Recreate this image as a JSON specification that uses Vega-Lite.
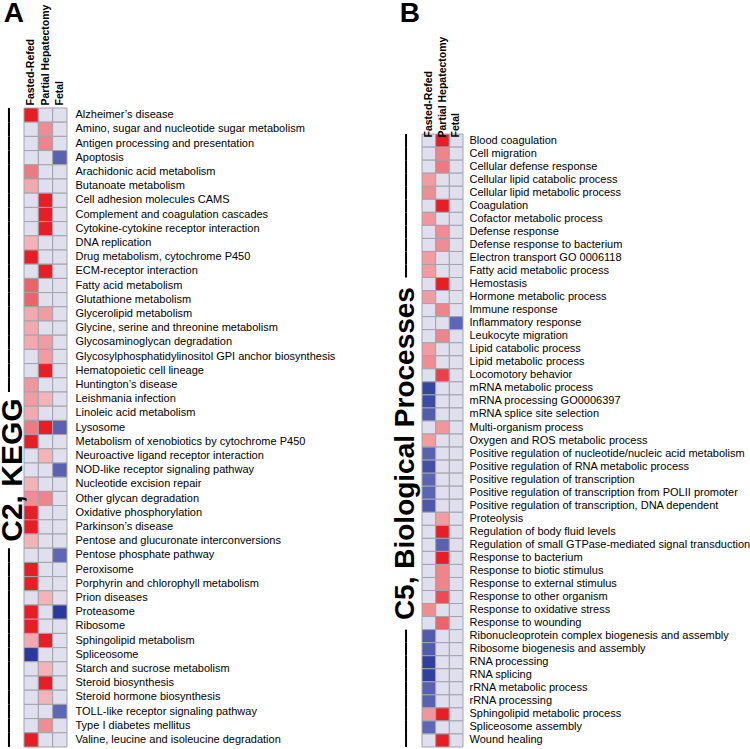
{
  "$schema": "https://vega.github.io/schema/vega-lite/v6.json",
  "padding": {"left": -3, "top": 0, "right": 0, "bottom": 0},
  "background": "white",
  "config": {"font": "Liberation Sans", "view": {"stroke": null}},
  "spacing": 56,
  "datasets": {
    "kegg": [
      {"term": "Alzheimer’s disease", "condition": "Fasted-Refed", "value": 1},
      {"term": "Alzheimer’s disease", "condition": "Partial Hepatectomy", "value": 0},
      {"term": "Alzheimer’s disease", "condition": "Fetal", "value": 0},
      {"term": "Amino, sugar and nucleotide sugar metabolism", "condition": "Fasted-Refed", "value": 0},
      {"term": "Amino, sugar and nucleotide sugar metabolism", "condition": "Partial Hepatectomy", "value": 0.5},
      {"term": "Amino, sugar and nucleotide sugar metabolism", "condition": "Fetal", "value": 0},
      {"term": "Antigen processing and presentation", "condition": "Fasted-Refed", "value": 0},
      {"term": "Antigen processing and presentation", "condition": "Partial Hepatectomy", "value": 0.55},
      {"term": "Antigen processing and presentation", "condition": "Fetal", "value": 0},
      {"term": "Apoptosis", "condition": "Fasted-Refed", "value": 0},
      {"term": "Apoptosis", "condition": "Partial Hepatectomy", "value": 0},
      {"term": "Apoptosis", "condition": "Fetal", "value": -0.65},
      {"term": "Arachidonic acid metabolism", "condition": "Fasted-Refed", "value": 0.6},
      {"term": "Arachidonic acid metabolism", "condition": "Partial Hepatectomy", "value": 0},
      {"term": "Arachidonic acid metabolism", "condition": "Fetal", "value": 0},
      {"term": "Butanoate metabolism", "condition": "Fasted-Refed", "value": 0.35},
      {"term": "Butanoate metabolism", "condition": "Partial Hepatectomy", "value": 0},
      {"term": "Butanoate metabolism", "condition": "Fetal", "value": 0},
      {"term": "Cell adhesion molecules CAMS", "condition": "Fasted-Refed", "value": 0},
      {"term": "Cell adhesion molecules CAMS", "condition": "Partial Hepatectomy", "value": 1},
      {"term": "Cell adhesion molecules CAMS", "condition": "Fetal", "value": 0},
      {"term": "Complement and coagulation cascades", "condition": "Fasted-Refed", "value": 0},
      {"term": "Complement and coagulation cascades", "condition": "Partial Hepatectomy", "value": 1},
      {"term": "Complement and coagulation cascades", "condition": "Fetal", "value": 0},
      {"term": "Cytokine-cytokine receptor interaction", "condition": "Fasted-Refed", "value": 0},
      {"term": "Cytokine-cytokine receptor interaction", "condition": "Partial Hepatectomy", "value": 1},
      {"term": "Cytokine-cytokine receptor interaction", "condition": "Fetal", "value": 0},
      {"term": "DNA replication", "condition": "Fasted-Refed", "value": 0.3},
      {"term": "DNA replication", "condition": "Partial Hepatectomy", "value": 0},
      {"term": "DNA replication", "condition": "Fetal", "value": 0},
      {"term": "Drug metabolism, cytochrome P450", "condition": "Fasted-Refed", "value": 1},
      {"term": "Drug metabolism, cytochrome P450", "condition": "Partial Hepatectomy", "value": 0},
      {"term": "Drug metabolism, cytochrome P450", "condition": "Fetal", "value": 0},
      {"term": "ECM-receptor interaction", "condition": "Fasted-Refed", "value": 0},
      {"term": "ECM-receptor interaction", "condition": "Partial Hepatectomy", "value": 1},
      {"term": "ECM-receptor interaction", "condition": "Fetal", "value": 0},
      {"term": "Fatty acid metabolism", "condition": "Fasted-Refed", "value": 0.7},
      {"term": "Fatty acid metabolism", "condition": "Partial Hepatectomy", "value": 0},
      {"term": "Fatty acid metabolism", "condition": "Fetal", "value": 0},
      {"term": "Glutathione metabolism", "condition": "Fasted-Refed", "value": 0.7},
      {"term": "Glutathione metabolism", "condition": "Partial Hepatectomy", "value": 0},
      {"term": "Glutathione metabolism", "condition": "Fetal", "value": 0},
      {"term": "Glycerolipid metabolism", "condition": "Fasted-Refed", "value": 0.35},
      {"term": "Glycerolipid metabolism", "condition": "Partial Hepatectomy", "value": 0.42},
      {"term": "Glycerolipid metabolism", "condition": "Fetal", "value": 0},
      {"term": "Glycine, serine and threonine metabolism", "condition": "Fasted-Refed", "value": 0.35},
      {"term": "Glycine, serine and threonine metabolism", "condition": "Partial Hepatectomy", "value": 0},
      {"term": "Glycine, serine and threonine metabolism", "condition": "Fetal", "value": 0},
      {"term": "Glycosaminoglycan degradation", "condition": "Fasted-Refed", "value": 0.35},
      {"term": "Glycosaminoglycan degradation", "condition": "Partial Hepatectomy", "value": 0.42},
      {"term": "Glycosaminoglycan degradation", "condition": "Fetal", "value": 0},
      {"term": "Glycosylphosphatidylinositol GPI anchor biosynthesis", "condition": "Fasted-Refed", "value": 0},
      {"term": "Glycosylphosphatidylinositol GPI anchor biosynthesis", "condition": "Partial Hepatectomy", "value": 0.42},
      {"term": "Glycosylphosphatidylinositol GPI anchor biosynthesis", "condition": "Fetal", "value": 0},
      {"term": "Hematopoietic cell lineage", "condition": "Fasted-Refed", "value": 0},
      {"term": "Hematopoietic cell lineage", "condition": "Partial Hepatectomy", "value": 1},
      {"term": "Hematopoietic cell lineage", "condition": "Fetal", "value": 0},
      {"term": "Huntington’s disease", "condition": "Fasted-Refed", "value": 0.45},
      {"term": "Huntington’s disease", "condition": "Partial Hepatectomy", "value": 0},
      {"term": "Huntington’s disease", "condition": "Fetal", "value": 0},
      {"term": "Leishmania infection", "condition": "Fasted-Refed", "value": 0.42},
      {"term": "Leishmania infection", "condition": "Partial Hepatectomy", "value": 0.3},
      {"term": "Leishmania infection", "condition": "Fetal", "value": 0},
      {"term": "Linoleic acid metabolism", "condition": "Fasted-Refed", "value": 0.35},
      {"term": "Linoleic acid metabolism", "condition": "Partial Hepatectomy", "value": 0},
      {"term": "Linoleic acid metabolism", "condition": "Fetal", "value": 0},
      {"term": "Lysosome", "condition": "Fasted-Refed", "value": 0.6},
      {"term": "Lysosome", "condition": "Partial Hepatectomy", "value": 1},
      {"term": "Lysosome", "condition": "Fetal", "value": -0.65},
      {"term": "Metabolism of xenobiotics by cytochrome P450", "condition": "Fasted-Refed", "value": 1},
      {"term": "Metabolism of xenobiotics by cytochrome P450", "condition": "Partial Hepatectomy", "value": 0},
      {"term": "Metabolism of xenobiotics by cytochrome P450", "condition": "Fetal", "value": 0},
      {"term": "Neuroactive ligand receptor interaction", "condition": "Fasted-Refed", "value": 0},
      {"term": "Neuroactive ligand receptor interaction", "condition": "Partial Hepatectomy", "value": 0.3},
      {"term": "Neuroactive ligand receptor interaction", "condition": "Fetal", "value": 0},
      {"term": "NOD-like receptor signaling pathway", "condition": "Fasted-Refed", "value": 0},
      {"term": "NOD-like receptor signaling pathway", "condition": "Partial Hepatectomy", "value": 0},
      {"term": "NOD-like receptor signaling pathway", "condition": "Fetal", "value": -0.65},
      {"term": "Nucleotide excision repair", "condition": "Fasted-Refed", "value": 0.3},
      {"term": "Nucleotide excision repair", "condition": "Partial Hepatectomy", "value": 0},
      {"term": "Nucleotide excision repair", "condition": "Fetal", "value": 0},
      {"term": "Other glycan degradation", "condition": "Fasted-Refed", "value": 0.5},
      {"term": "Other glycan degradation", "condition": "Partial Hepatectomy", "value": 0.55},
      {"term": "Other glycan degradation", "condition": "Fetal", "value": 0},
      {"term": "Oxidative phosphorylation", "condition": "Fasted-Refed", "value": 1},
      {"term": "Oxidative phosphorylation", "condition": "Partial Hepatectomy", "value": 0},
      {"term": "Oxidative phosphorylation", "condition": "Fetal", "value": 0},
      {"term": "Parkinson’s disease", "condition": "Fasted-Refed", "value": 1},
      {"term": "Parkinson’s disease", "condition": "Partial Hepatectomy", "value": 0},
      {"term": "Parkinson’s disease", "condition": "Fetal", "value": 0},
      {"term": "Pentose and glucuronate interconversions", "condition": "Fasted-Refed", "value": 0.3},
      {"term": "Pentose and glucuronate interconversions", "condition": "Partial Hepatectomy", "value": 0},
      {"term": "Pentose and glucuronate interconversions", "condition": "Fetal", "value": 0},
      {"term": "Pentose phosphate pathway", "condition": "Fasted-Refed", "value": 0},
      {"term": "Pentose phosphate pathway", "condition": "Partial Hepatectomy", "value": 0},
      {"term": "Pentose phosphate pathway", "condition": "Fetal", "value": -0.6},
      {"term": "Peroxisome", "condition": "Fasted-Refed", "value": 1},
      {"term": "Peroxisome", "condition": "Partial Hepatectomy", "value": 0},
      {"term": "Peroxisome", "condition": "Fetal", "value": 0},
      {"term": "Porphyrin and chlorophyll metabolism", "condition": "Fasted-Refed", "value": 1},
      {"term": "Porphyrin and chlorophyll metabolism", "condition": "Partial Hepatectomy", "value": 0},
      {"term": "Porphyrin and chlorophyll metabolism", "condition": "Fetal", "value": 0},
      {"term": "Prion diseases", "condition": "Fasted-Refed", "value": 0},
      {"term": "Prion diseases", "condition": "Partial Hepatectomy", "value": 0.3},
      {"term": "Prion diseases", "condition": "Fetal", "value": 0},
      {"term": "Proteasome", "condition": "Fasted-Refed", "value": 1},
      {"term": "Proteasome", "condition": "Partial Hepatectomy", "value": 0},
      {"term": "Proteasome", "condition": "Fetal", "value": -1},
      {"term": "Ribosome", "condition": "Fasted-Refed", "value": 1},
      {"term": "Ribosome", "condition": "Partial Hepatectomy", "value": 0},
      {"term": "Ribosome", "condition": "Fetal", "value": 0},
      {"term": "Sphingolipid metabolism", "condition": "Fasted-Refed", "value": 0.35},
      {"term": "Sphingolipid metabolism", "condition": "Partial Hepatectomy", "value": 1},
      {"term": "Sphingolipid metabolism", "condition": "Fetal", "value": 0},
      {"term": "Spliceosome", "condition": "Fasted-Refed", "value": -1},
      {"term": "Spliceosome", "condition": "Partial Hepatectomy", "value": 0},
      {"term": "Spliceosome", "condition": "Fetal", "value": 0},
      {"term": "Starch and sucrose metabolism", "condition": "Fasted-Refed", "value": 0},
      {"term": "Starch and sucrose metabolism", "condition": "Partial Hepatectomy", "value": 0.3},
      {"term": "Starch and sucrose metabolism", "condition": "Fetal", "value": 0},
      {"term": "Steroid biosynthesis", "condition": "Fasted-Refed", "value": 0},
      {"term": "Steroid biosynthesis", "condition": "Partial Hepatectomy", "value": 1},
      {"term": "Steroid biosynthesis", "condition": "Fetal", "value": 0},
      {"term": "Steroid hormone biosynthesis", "condition": "Fasted-Refed", "value": 0},
      {"term": "Steroid hormone biosynthesis", "condition": "Partial Hepatectomy", "value": 0.3},
      {"term": "Steroid hormone biosynthesis", "condition": "Fetal", "value": 0},
      {"term": "TOLL-like receptor signaling pathway", "condition": "Fasted-Refed", "value": 0},
      {"term": "TOLL-like receptor signaling pathway", "condition": "Partial Hepatectomy", "value": 0},
      {"term": "TOLL-like receptor signaling pathway", "condition": "Fetal", "value": -0.6},
      {"term": "Type I diabetes mellitus", "condition": "Fasted-Refed", "value": 0},
      {"term": "Type I diabetes mellitus", "condition": "Partial Hepatectomy", "value": 0.5},
      {"term": "Type I diabetes mellitus", "condition": "Fetal", "value": 0},
      {"term": "Valine, leucine and isoleucine degradation", "condition": "Fasted-Refed", "value": 1},
      {"term": "Valine, leucine and isoleucine degradation", "condition": "Partial Hepatectomy", "value": 0},
      {"term": "Valine, leucine and isoleucine degradation", "condition": "Fetal", "value": 0}
    ],
    "go": [
      {"term": "Blood coagulation", "condition": "Fasted-Refed", "value": 0},
      {"term": "Blood coagulation", "condition": "Partial Hepatectomy", "value": 1},
      {"term": "Blood coagulation", "condition": "Fetal", "value": 0},
      {"term": "Cell migration", "condition": "Fasted-Refed", "value": 0},
      {"term": "Cell migration", "condition": "Partial Hepatectomy", "value": 0.55},
      {"term": "Cell migration", "condition": "Fetal", "value": 0},
      {"term": "Cellular defense response", "condition": "Fasted-Refed", "value": 0},
      {"term": "Cellular defense response", "condition": "Partial Hepatectomy", "value": 0.6},
      {"term": "Cellular defense response", "condition": "Fetal", "value": 0},
      {"term": "Cellular lipid catabolic process", "condition": "Fasted-Refed", "value": 0.42},
      {"term": "Cellular lipid catabolic process", "condition": "Partial Hepatectomy", "value": 0},
      {"term": "Cellular lipid catabolic process", "condition": "Fetal", "value": 0},
      {"term": "Cellular lipid metabolic process", "condition": "Fasted-Refed", "value": 0.5},
      {"term": "Cellular lipid metabolic process", "condition": "Partial Hepatectomy", "value": 0},
      {"term": "Cellular lipid metabolic process", "condition": "Fetal", "value": 0},
      {"term": "Coagulation", "condition": "Fasted-Refed", "value": 0},
      {"term": "Coagulation", "condition": "Partial Hepatectomy", "value": 1},
      {"term": "Coagulation", "condition": "Fetal", "value": 0},
      {"term": "Cofactor metabolic process", "condition": "Fasted-Refed", "value": 0.45},
      {"term": "Cofactor metabolic process", "condition": "Partial Hepatectomy", "value": 0},
      {"term": "Cofactor metabolic process", "condition": "Fetal", "value": 0},
      {"term": "Defense response", "condition": "Fasted-Refed", "value": 0},
      {"term": "Defense response", "condition": "Partial Hepatectomy", "value": 0.5},
      {"term": "Defense response", "condition": "Fetal", "value": 0},
      {"term": "Defense response to bacterium", "condition": "Fasted-Refed", "value": 0},
      {"term": "Defense response to bacterium", "condition": "Partial Hepatectomy", "value": 0.5},
      {"term": "Defense response to bacterium", "condition": "Fetal", "value": 0},
      {"term": "Electron transport GO 0006118", "condition": "Fasted-Refed", "value": 0.42},
      {"term": "Electron transport GO 0006118", "condition": "Partial Hepatectomy", "value": 0},
      {"term": "Electron transport GO 0006118", "condition": "Fetal", "value": 0},
      {"term": "Fatty acid metabolic process", "condition": "Fasted-Refed", "value": 0.42},
      {"term": "Fatty acid metabolic process", "condition": "Partial Hepatectomy", "value": 0},
      {"term": "Fatty acid metabolic process", "condition": "Fetal", "value": 0},
      {"term": "Hemostasis", "condition": "Fasted-Refed", "value": 0},
      {"term": "Hemostasis", "condition": "Partial Hepatectomy", "value": 1},
      {"term": "Hemostasis", "condition": "Fetal", "value": 0},
      {"term": "Hormone metabolic process", "condition": "Fasted-Refed", "value": 0.42},
      {"term": "Hormone metabolic process", "condition": "Partial Hepatectomy", "value": 0},
      {"term": "Hormone metabolic process", "condition": "Fetal", "value": 0},
      {"term": "Immune response", "condition": "Fasted-Refed", "value": 0},
      {"term": "Immune response", "condition": "Partial Hepatectomy", "value": 0.55},
      {"term": "Immune response", "condition": "Fetal", "value": 0},
      {"term": "Inflammatory response", "condition": "Fasted-Refed", "value": 0},
      {"term": "Inflammatory response", "condition": "Partial Hepatectomy", "value": 0},
      {"term": "Inflammatory response", "condition": "Fetal", "value": -0.6},
      {"term": "Leukocyte migration", "condition": "Fasted-Refed", "value": 0},
      {"term": "Leukocyte migration", "condition": "Partial Hepatectomy", "value": 0.55},
      {"term": "Leukocyte migration", "condition": "Fetal", "value": 0},
      {"term": "Lipid catabolic process", "condition": "Fasted-Refed", "value": 0.42},
      {"term": "Lipid catabolic process", "condition": "Partial Hepatectomy", "value": 0},
      {"term": "Lipid catabolic process", "condition": "Fetal", "value": 0},
      {"term": "Lipid metabolic process", "condition": "Fasted-Refed", "value": 0.5},
      {"term": "Lipid metabolic process", "condition": "Partial Hepatectomy", "value": 0},
      {"term": "Lipid metabolic process", "condition": "Fetal", "value": 0},
      {"term": "Locomotory behavior", "condition": "Fasted-Refed", "value": 0},
      {"term": "Locomotory behavior", "condition": "Partial Hepatectomy", "value": 0.85},
      {"term": "Locomotory behavior", "condition": "Fetal", "value": 0},
      {"term": "mRNA metabolic process", "condition": "Fasted-Refed", "value": -0.9},
      {"term": "mRNA metabolic process", "condition": "Partial Hepatectomy", "value": 0},
      {"term": "mRNA metabolic process", "condition": "Fetal", "value": 0},
      {"term": "mRNA processing GO0006397", "condition": "Fasted-Refed", "value": -0.85},
      {"term": "mRNA processing GO0006397", "condition": "Partial Hepatectomy", "value": 0},
      {"term": "mRNA processing GO0006397", "condition": "Fetal", "value": 0},
      {"term": "mRNA splice site selection", "condition": "Fasted-Refed", "value": -0.7},
      {"term": "mRNA splice site selection", "condition": "Partial Hepatectomy", "value": 0},
      {"term": "mRNA splice site selection", "condition": "Fetal", "value": 0},
      {"term": "Multi-organism process", "condition": "Fasted-Refed", "value": 0},
      {"term": "Multi-organism process", "condition": "Partial Hepatectomy", "value": 0.45},
      {"term": "Multi-organism process", "condition": "Fetal", "value": 0},
      {"term": "Oxygen and ROS metabolic process", "condition": "Fasted-Refed", "value": 0.42},
      {"term": "Oxygen and ROS metabolic process", "condition": "Partial Hepatectomy", "value": 0},
      {"term": "Oxygen and ROS metabolic process", "condition": "Fetal", "value": 0},
      {"term": "Positive regulation of nucleotide/nucleic acid metabolism", "condition": "Fasted-Refed", "value": -0.65},
      {"term": "Positive regulation of nucleotide/nucleic acid metabolism", "condition": "Partial Hepatectomy", "value": 0},
      {"term": "Positive regulation of nucleotide/nucleic acid metabolism", "condition": "Fetal", "value": 0},
      {"term": "Positive regulation of RNA metabolic process", "condition": "Fasted-Refed", "value": -0.8},
      {"term": "Positive regulation of RNA metabolic process", "condition": "Partial Hepatectomy", "value": 0},
      {"term": "Positive regulation of RNA metabolic process", "condition": "Fetal", "value": 0},
      {"term": "Positive regulation of transcription", "condition": "Fasted-Refed", "value": -0.62},
      {"term": "Positive regulation of transcription", "condition": "Partial Hepatectomy", "value": 0},
      {"term": "Positive regulation of transcription", "condition": "Fetal", "value": 0},
      {"term": "Positive regulation of transcription from POLII promoter", "condition": "Fasted-Refed", "value": -0.62},
      {"term": "Positive regulation of transcription from POLII promoter", "condition": "Partial Hepatectomy", "value": 0},
      {"term": "Positive regulation of transcription from POLII promoter", "condition": "Fetal", "value": 0},
      {"term": "Positive regulation of transcription, DNA dependent", "condition": "Fasted-Refed", "value": -0.75},
      {"term": "Positive regulation of transcription, DNA dependent", "condition": "Partial Hepatectomy", "value": 0},
      {"term": "Positive regulation of transcription, DNA dependent", "condition": "Fetal", "value": 0},
      {"term": "Proteolysis", "condition": "Fasted-Refed", "value": 0},
      {"term": "Proteolysis", "condition": "Partial Hepatectomy", "value": 0.42},
      {"term": "Proteolysis", "condition": "Fetal", "value": 0},
      {"term": "Regulation of body fluid levels", "condition": "Fasted-Refed", "value": 0},
      {"term": "Regulation of body fluid levels", "condition": "Partial Hepatectomy", "value": 1},
      {"term": "Regulation of body fluid levels", "condition": "Fetal", "value": 0},
      {"term": "Regulation of small GTPase-mediated signal transduction", "condition": "Fasted-Refed", "value": 0},
      {"term": "Regulation of small GTPase-mediated signal transduction", "condition": "Partial Hepatectomy", "value": -0.65},
      {"term": "Regulation of small GTPase-mediated signal transduction", "condition": "Fetal", "value": 0},
      {"term": "Response to bacterium", "condition": "Fasted-Refed", "value": 0},
      {"term": "Response to bacterium", "condition": "Partial Hepatectomy", "value": 1},
      {"term": "Response to bacterium", "condition": "Fetal", "value": 0},
      {"term": "Response to biotic stimulus", "condition": "Fasted-Refed", "value": 0},
      {"term": "Response to biotic stimulus", "condition": "Partial Hepatectomy", "value": 0.55},
      {"term": "Response to biotic stimulus", "condition": "Fetal", "value": 0},
      {"term": "Response to external stimulus", "condition": "Fasted-Refed", "value": 0},
      {"term": "Response to external stimulus", "condition": "Partial Hepatectomy", "value": 0.55},
      {"term": "Response to external stimulus", "condition": "Fetal", "value": 0},
      {"term": "Response to other organism", "condition": "Fasted-Refed", "value": 0},
      {"term": "Response to other organism", "condition": "Partial Hepatectomy", "value": 0.8},
      {"term": "Response to other organism", "condition": "Fetal", "value": 0},
      {"term": "Response to oxidative stress", "condition": "Fasted-Refed", "value": 0.5},
      {"term": "Response to oxidative stress", "condition": "Partial Hepatectomy", "value": 0},
      {"term": "Response to oxidative stress", "condition": "Fetal", "value": 0},
      {"term": "Response to wounding", "condition": "Fasted-Refed", "value": 0},
      {"term": "Response to wounding", "condition": "Partial Hepatectomy", "value": 0.7},
      {"term": "Response to wounding", "condition": "Fetal", "value": 0},
      {"term": "Ribonucleoprotein complex biogenesis and assembly", "condition": "Fasted-Refed", "value": -0.7},
      {"term": "Ribonucleoprotein complex biogenesis and assembly", "condition": "Partial Hepatectomy", "value": 0},
      {"term": "Ribonucleoprotein complex biogenesis and assembly", "condition": "Fetal", "value": 0},
      {"term": "Ribosome biogenesis and assembly", "condition": "Fasted-Refed", "value": -0.7},
      {"term": "Ribosome biogenesis and assembly", "condition": "Partial Hepatectomy", "value": 0},
      {"term": "Ribosome biogenesis and assembly", "condition": "Fetal", "value": 0},
      {"term": "RNA processing", "condition": "Fasted-Refed", "value": -0.95},
      {"term": "RNA processing", "condition": "Partial Hepatectomy", "value": 0},
      {"term": "RNA processing", "condition": "Fetal", "value": 0},
      {"term": "RNA splicing", "condition": "Fasted-Refed", "value": -0.95},
      {"term": "RNA splicing", "condition": "Partial Hepatectomy", "value": 0},
      {"term": "RNA splicing", "condition": "Fetal", "value": 0},
      {"term": "rRNA metabolic process", "condition": "Fasted-Refed", "value": -0.65},
      {"term": "rRNA metabolic process", "condition": "Partial Hepatectomy", "value": 0},
      {"term": "rRNA metabolic process", "condition": "Fetal", "value": 0},
      {"term": "rRNA processing", "condition": "Fasted-Refed", "value": -0.65},
      {"term": "rRNA processing", "condition": "Partial Hepatectomy", "value": 0},
      {"term": "rRNA processing", "condition": "Fetal", "value": 0},
      {"term": "Sphingolipid metabolic process", "condition": "Fasted-Refed", "value": 0.45},
      {"term": "Sphingolipid metabolic process", "condition": "Partial Hepatectomy", "value": 1},
      {"term": "Sphingolipid metabolic process", "condition": "Fetal", "value": 0},
      {"term": "Spliceosome assembly", "condition": "Fasted-Refed", "value": -0.6},
      {"term": "Spliceosome assembly", "condition": "Partial Hepatectomy", "value": 0},
      {"term": "Spliceosome assembly", "condition": "Fetal", "value": 0},
      {"term": "Wound healing", "condition": "Fasted-Refed", "value": 0},
      {"term": "Wound healing", "condition": "Partial Hepatectomy", "value": 1},
      {"term": "Wound healing", "condition": "Fetal", "value": 0}
    ]
  },
  "hconcat": [
    {
      "title": {"text": "A", "anchor": "start", "fontSize": 28, "fontWeight": "bold", "color": "#000", "offset": -24, "dx": 6},
      "width": 43,
      "height": 639,
      "data": {"name": "kegg"},
      "encoding": {
        "y": {
          "field": "term", "type": "nominal",
          "scale": {"paddingInner": 0, "paddingOuter": 0, "domain": ["Alzheimer’s disease", "Amino, sugar and nucleotide sugar metabolism", "Antigen processing and presentation", "Apoptosis", "Arachidonic acid metabolism", "Butanoate metabolism", "Cell adhesion molecules CAMS", "Complement and coagulation cascades", "Cytokine-cytokine receptor interaction", "DNA replication", "Drug metabolism, cytochrome P450", "ECM-receptor interaction", "Fatty acid metabolism", "Glutathione metabolism", "Glycerolipid metabolism", "Glycine, serine and threonine metabolism", "Glycosaminoglycan degradation", "Glycosylphosphatidylinositol GPI anchor biosynthesis", "Hematopoietic cell lineage", "Huntington’s disease", "Leishmania infection", "Linoleic acid metabolism", "Lysosome", "Metabolism of xenobiotics by cytochrome P450", "Neuroactive ligand receptor interaction", "NOD-like receptor signaling pathway", "Nucleotide excision repair", "Other glycan degradation", "Oxidative phosphorylation", "Parkinson’s disease", "Pentose and glucuronate interconversions", "Pentose phosphate pathway", "Peroxisome", "Porphyrin and chlorophyll metabolism", "Prion diseases", "Proteasome", "Ribosome", "Sphingolipid metabolism", "Spliceosome", "Starch and sucrose metabolism", "Steroid biosynthesis", "Steroid hormone biosynthesis", "TOLL-like receptor signaling pathway", "Type I diabetes mellitus", "Valine, leucine and isoleucine degradation"]},
          "axis": {"orient": "right", "title": null, "ticks": false, "domain": false, "labelPadding": 8, "labelFontSize": 11, "labelLimit": 0, "labelColor": "#000"}
        }
      },
      "layer": [
        {
          "mark": {"type": "rect", "stroke": "#a3a3ae", "strokeWidth": 1},
          "encoding": {
            "x": {"field": "condition", "type": "nominal", "scale": {"domain": ["Fasted-Refed", "Partial Hepatectomy", "Fetal"], "paddingInner": 0, "paddingOuter": 0},
                  "axis": {"orient": "top", "title": null, "labelAngle": -90, "ticks": false, "domain": false, "labelFontWeight": "bold", "labelFontSize": 10.5, "labelPadding": 3, "labelColor": "#000", "labelLimit": 0}},
            "color": {"field": "value", "type": "quantitative", "legend": null,
                      "scale": {"domain": [-1, -0.5, 0, 0.3, 0.6, 1], "range": ["#2a3a9c", "#6b72bb", "#dfdfee", "#f3b3b7", "#ee7a81", "#e81e25"], "interpolate": "rgb"}}
          }
        },
        {
          "transform": [{"filter": {"and": [{"field": "condition", "equal": "Fasted-Refed"}, {"not": {"field": "term", "oneOf": ["Leishmania infection", "Linoleic acid metabolism", "Lysosome", "Metabolism of xenobiotics by cytochrome P450", "Neuroactive ligand receptor interaction", "NOD-like receptor signaling pathway", "Nucleotide excision repair", "Other glycan degradation", "Oxidative phosphorylation", "Parkinson’s disease", "Pentose and glucuronate interconversions"]}}]}}],
          "mark": {"type": "rect", "width": 2, "xOffset": -22.2, "color": "#000"},
          "encoding": {"x": {"datum": "Fasted-Refed"}}
        },
        {
          "transform": [{"filter": {"and": [{"field": "condition", "equal": "Fasted-Refed"}, {"field": "term", "equal": "NOD-like receptor signaling pathway"}]}}],
          "mark": {"type": "text", "text": "C2, KEGG", "angle": 270, "fontSize": 30, "fontWeight": "bold", "align": "center", "baseline": "middle", "xOffset": -18.4, "color": "#000"},
          "encoding": {"x": {"datum": "Fasted-Refed"}}
        }
      ]
    },
    {
      "title": {"text": "B", "anchor": "start", "fontSize": 28, "fontWeight": "bold", "color": "#000", "offset": 8, "dx": 8},
      "width": 41,
      "height": 639,
      "data": {"name": "go"},
      "encoding": {
        "y": {
          "field": "term", "type": "nominal",
          "scale": {"paddingInner": 0, "paddingOuter": 1.25, "align": 1, "domain": ["Blood coagulation", "Cell migration", "Cellular defense response", "Cellular lipid catabolic process", "Cellular lipid metabolic process", "Coagulation", "Cofactor metabolic process", "Defense response", "Defense response to bacterium", "Electron transport GO 0006118", "Fatty acid metabolic process", "Hemostasis", "Hormone metabolic process", "Immune response", "Inflammatory response", "Leukocyte migration", "Lipid catabolic process", "Lipid metabolic process", "Locomotory behavior", "mRNA metabolic process", "mRNA processing GO0006397", "mRNA splice site selection", "Multi-organism process", "Oxygen and ROS metabolic process", "Positive regulation of nucleotide/nucleic acid metabolism", "Positive regulation of RNA metabolic process", "Positive regulation of transcription", "Positive regulation of transcription from POLII promoter", "Positive regulation of transcription, DNA dependent", "Proteolysis", "Regulation of body fluid levels", "Regulation of small GTPase-mediated signal transduction", "Response to bacterium", "Response to biotic stimulus", "Response to external stimulus", "Response to other organism", "Response to oxidative stress", "Response to wounding", "Ribonucleoprotein complex biogenesis and assembly", "Ribosome biogenesis and assembly", "RNA processing", "RNA splicing", "rRNA metabolic process", "rRNA processing", "Sphingolipid metabolic process", "Spliceosome assembly", "Wound healing"]},
          "axis": {"orient": "right", "title": null, "ticks": false, "domain": false, "labelPadding": 6, "labelFontSize": 11, "labelLimit": 0, "labelColor": "#000"}
        }
      },
      "layer": [
        {
          "mark": {"type": "rect", "stroke": "#a3a3ae", "strokeWidth": 1},
          "encoding": {
            "x": {"field": "condition", "type": "nominal", "scale": {"domain": ["Fasted-Refed", "Partial Hepatectomy", "Fetal"], "paddingInner": 0, "paddingOuter": 0},
                  "axis": {"orient": "top", "offset": -32, "title": null, "labelAngle": -90, "ticks": false, "domain": false, "labelFontWeight": "bold", "labelFontSize": 10.5, "labelPadding": 3, "labelColor": "#000", "labelLimit": 0}},
            "color": {"field": "value", "type": "quantitative", "legend": null,
                      "scale": {"domain": [-1, -0.5, 0, 0.3, 0.6, 1], "range": ["#2a3a9c", "#6b72bb", "#dfdfee", "#f3b3b7", "#ee7a81", "#e81e25"], "interpolate": "rgb"}}
          }
        },
        {
          "transform": [{"filter": {"and": [{"field": "condition", "equal": "Fasted-Refed"}, {"not": {"field": "term", "oneOf": ["Hemostasis", "Hormone metabolic process", "Immune response", "Inflammatory response", "Leukocyte migration", "Lipid catabolic process", "Lipid metabolic process", "Locomotory behavior", "mRNA metabolic process", "mRNA processing GO0006397", "mRNA splice site selection", "Multi-organism process", "Oxygen and ROS metabolic process", "Positive regulation of nucleotide/nucleic acid metabolism", "Positive regulation of RNA metabolic process", "Positive regulation of transcription", "Positive regulation of transcription from POLII promoter", "Positive regulation of transcription, DNA dependent", "Proteolysis", "Regulation of body fluid levels", "Regulation of small GTPase-mediated signal transduction", "Response to bacterium", "Response to biotic stimulus", "Response to external stimulus", "Response to other organism", "Response to oxidative stress", "Response to wounding"]}}]}}],
          "mark": {"type": "rect", "width": 2, "xOffset": -22.8, "color": "#000"},
          "encoding": {"x": {"datum": "Fasted-Refed"}}
        },
        {
          "transform": [{"filter": {"and": [{"field": "condition", "equal": "Fasted-Refed"}, {"field": "term", "equal": "Positive regulation of nucleotide/nucleic acid metabolism"}]}}],
          "mark": {"type": "text", "text": "C5, Biological Processes", "angle": 270, "fontSize": 28, "fontWeight": "bold", "align": "center", "baseline": "middle", "xOffset": -23, "color": "#000"},
          "encoding": {"x": {"datum": "Fasted-Refed"}}
        }
      ]
    }
  ]
}
